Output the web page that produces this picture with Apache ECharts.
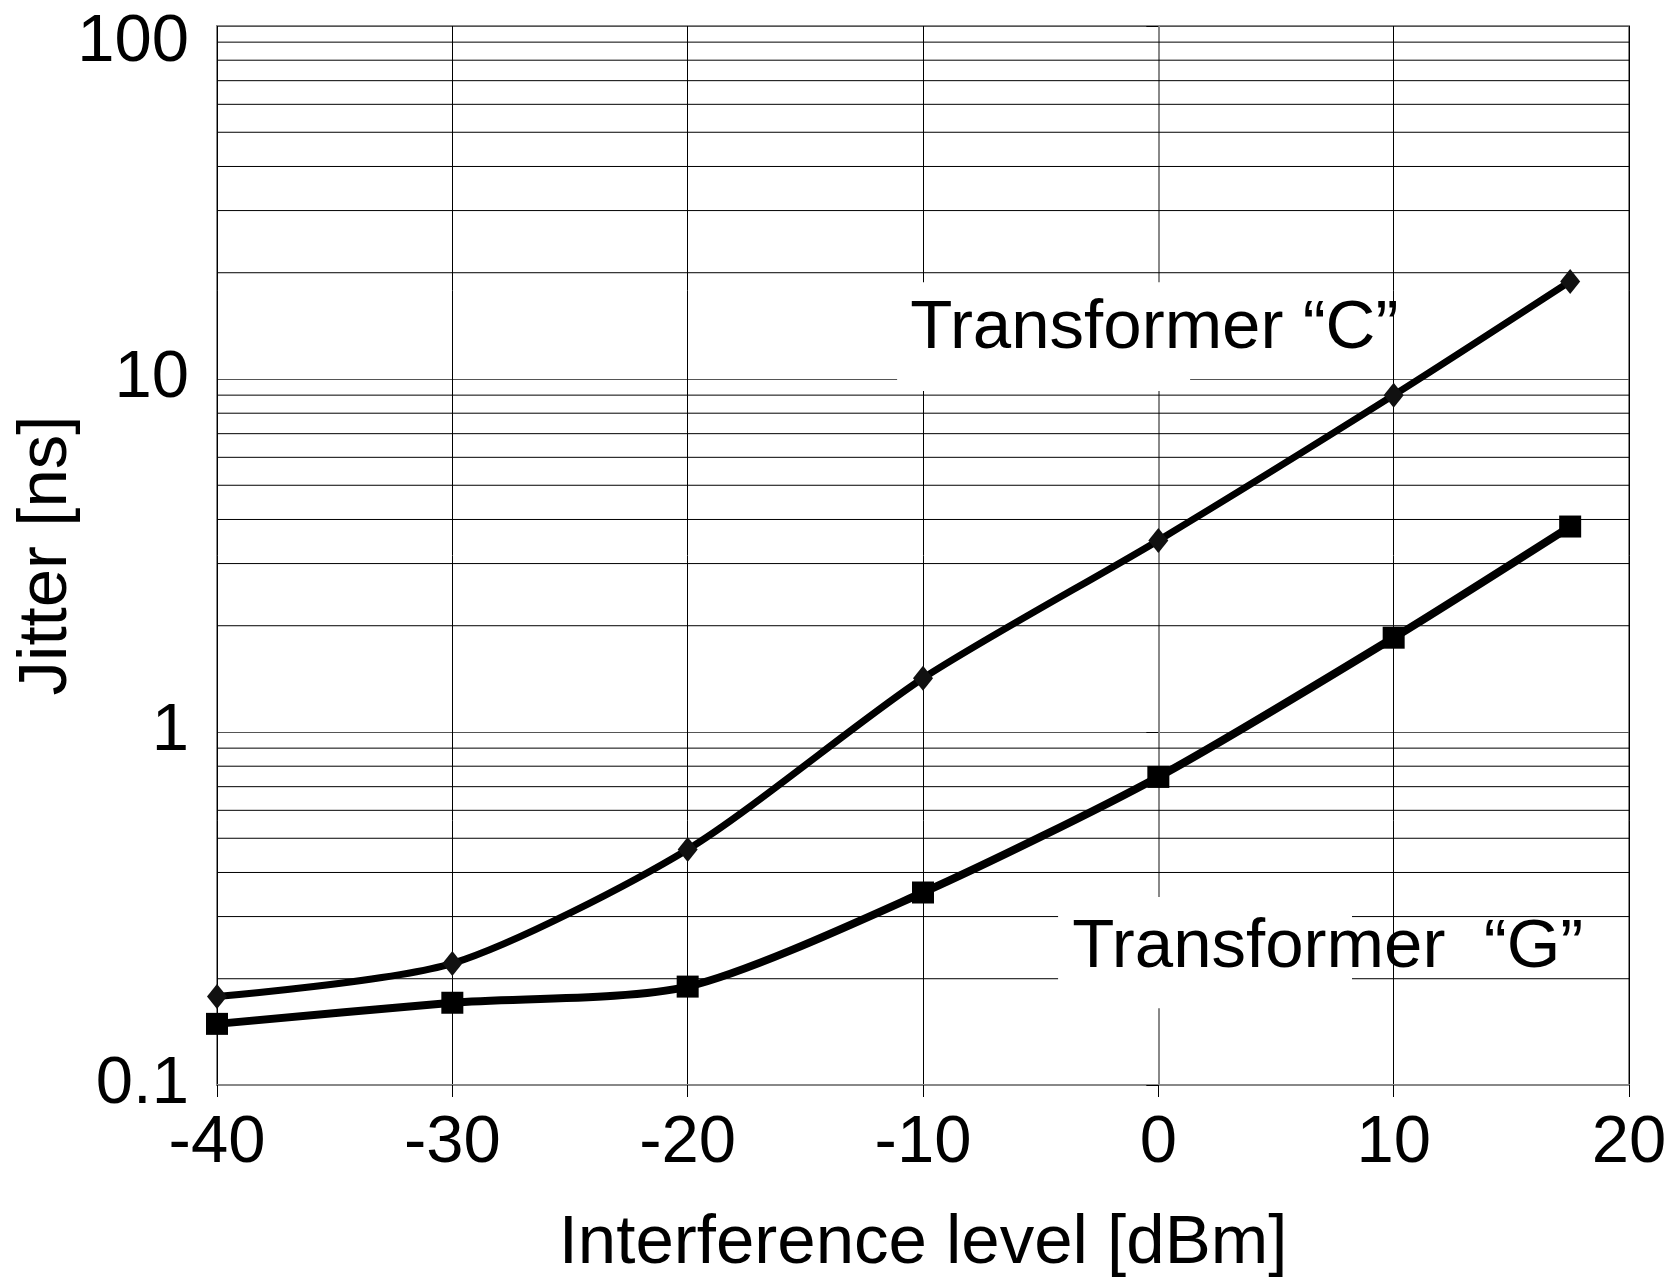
<!DOCTYPE html>
<html>
<head>
<meta charset="utf-8">
<script src="https://cdn.jsdelivr.net/npm/echarts@6/dist/echarts.min.js"></script>
<style>
html,body{margin:0;padding:0;background:#fff;}
#chart{width:1673px;height:1279px;}
</style>
</head>
<body>
<div id="chart"></div>
<script>
// ---- data ----
const xValues = [-40, -30, -20, -10, 0, 10, 17.5];            // Interference level [dBm]
const jitterC = [0.178, 0.221, 0.465, 1.42, 3.49, 9.0, 18.9];  // Transformer "C" [ns]
const jitterG = [0.149, 0.171, 0.190, 0.351, 0.746, 1.85, 3.82]; // Transformer "G" [ns]
const seriesLabels = ['Transformer \u201CC\u201D', 'Transformer  \u201CG\u201D'];
const xTicks = [-40, -30, -20, -10, 0, 10, 20];
const yTicks = [0.1, 1, 10, 100];
const minorGridValues = [0.2,0.3,0.4,0.5,0.6,0.7,0.8,0.9, 2,3,4,5,6,7,8,9, 20,30,40,50,60,70,80,90];
// annotation boxes in data units: [x1, yTop, x2, yBottom, textX, textY]
const annotations = [
  [-11.1, 18.8, 1.35, 9.25, -10.54, 13.9],
  [-4.26, 0.341, 8.23, 0.165, -3.66, 0.245]
];

const FONT = '"Liberation Sans", Arial, Helvetica, sans-serif';
const chart = echarts.init(document.getElementById('chart'), null, {renderer: 'canvas'});

const option = {
  animation: false,
  backgroundColor: '#fff',
  grid: {
    left: 217, top: 26, right: 44, bottom: 194,
    show: true, borderColor: '#888', borderWidth: 2, backgroundColor: 'transparent',
    containLabel: false,
    outerBoundsMode: 'none'
  },
  xAxis: {
    type: 'value',
    min: xTicks[0], max: xTicks[xTicks.length - 1], interval: 10,
    name: 'Interference level [dBm]',
    nameLocation: 'middle', nameGap: 124, nameMoveOverlap: false,
    nameTextStyle: {fontSize: 69, color: '#000', fontFamily: FONT},
    axisLine: {show: true, onZero: false, lineStyle: {color: '#888', width: 2}},
    axisTick: {show: true, inside: false, length: 12, lineStyle: {color: '#000', width: 1}},
    axisLabel: {fontSize: 67, color: '#000', fontFamily: FONT, margin: 25},
    splitLine: {show: true, lineStyle: {color: '#000', width: 1}}
  },
  yAxis: {
    type: 'log', logBase: 10,
    min: yTicks[0], max: yTicks[yTicks.length - 1],
    name: 'Jitter [ns]',
    nameLocation: 'middle', nameGap: 136, nameRotate: 90, nameMoveOverlap: false,
    nameTextStyle: {fontSize: 69, color: '#000', fontFamily: FONT},
    axisLine: {show: true, lineStyle: {color: '#888', width: 2}},
    axisTick: {show: true, inside: false, length: 12, lineStyle: {color: '#000', width: 1}},
    axisLabel: {
      fontSize: 67, color: '#000', fontFamily: FONT, margin: 28,
      formatter: function (v) { return v === 100 ? '{top|100}' : String(v); },
      rich: {top: {fontSize: 67, color: '#000', fontFamily: FONT, padding: [34, 0, 0, 0]}}
    },
    splitLine: {show: true, lineStyle: {color: '#555', width: 1}}
  },
  series: [
    {
      type: 'custom', name: 'minorGrid', z: 1, silent: true,
      data: minorGridValues.map(v => [v]),
      encode: {y: 0},
      renderItem: function (params, api) {
        const v = api.value(0);
        const a = api.coord([xTicks[0], v]);
        const b = api.coord([xTicks[xTicks.length - 1], v]);
        return {type: 'line', shape: {x1: a[0], y1: a[1], x2: b[0], y2: b[1]},
                style: {stroke: '#000', lineWidth: 1}};
      }
    },
    {
      type: 'custom', name: 'labels', z: 2, silent: true,
      data: annotations,
      encode: {x: [0, 2, 4], y: [1, 3, 5]},
      renderItem: function (params, api) {
        const p1 = api.coord([api.value(0), api.value(1)]);
        const p2 = api.coord([api.value(2), api.value(3)]);
        const t = api.coord([api.value(4), api.value(5)]);
        return {type: 'group', children: [
          {type: 'rect', shape: {x: p1[0], y: p1[1], width: p2[0] - p1[0], height: p2[1] - p1[1]},
           style: {fill: '#fff'}},
          {type: 'text', x: t[0], y: t[1],
           style: {text: seriesLabels[params.dataIndex], fontSize: 69, fontFamily: FONT,
                   fill: '#000', align: 'left', verticalAlign: 'middle'}}
        ]};
      }
    },
    {
      type: 'line', name: seriesLabels[0], z: 3,
      data: xValues.map((x, i) => [x, jitterC[i]]),
      smooth: 0.25,
      symbol: 'diamond', symbolSize: [20, 25],
      lineStyle: {color: '#000', width: 7},
      itemStyle: {color: '#111'}
    },
    {
      type: 'line', name: seriesLabels[1], z: 3,
      data: xValues.map((x, i) => [x, jitterG[i]]),
      smooth: 0.25,
      symbol: 'rect', symbolSize: 22,
      lineStyle: {color: '#000', width: 8},
      itemStyle: {color: '#000'}
    }
  ]
};
chart.setOption(option);
</script>
</body>
</html>
